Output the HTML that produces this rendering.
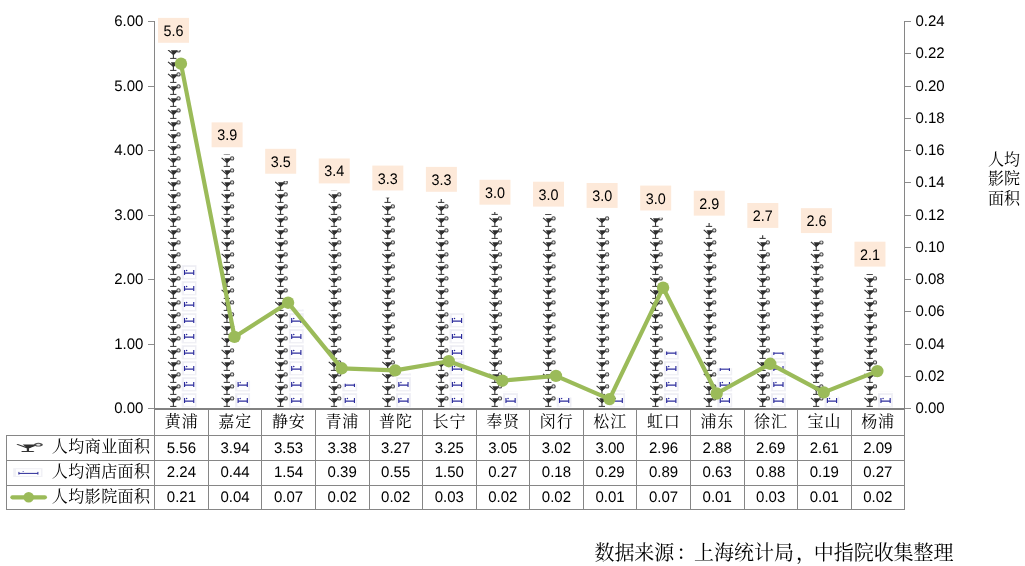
<!DOCTYPE html>
<html lang="zh"><head><meta charset="utf-8"><title>chart</title>
<style>html,body{margin:0;padding:0;background:#fff;overflow:hidden}svg{display:block}</style></head>
<body>
<svg width="1025" height="566" viewBox="0 0 1025 566">
<defs>
<g id="glass"><path d="M1.9 1.8 L7.25 6.5 L11.4 2.5" fill="none" stroke="#303030" stroke-width="1.1"/><path d="M4.7 2.25 L11.6 2.25 L7.7 6.5 L6.9 6.5 Z" fill="#2e2e2e"/><path d="M7.25 6.3 L7.25 10.3" stroke="#343434" stroke-width="1.1"/><path d="M4.4 10.4 L9.9 10.4" stroke="#343434" stroke-width="1.0" stroke-linecap="round"/><circle cx="12.4" cy="2.4" r="1.65" fill="#e2e2e2" stroke="#4c4c4c" stroke-width="1.1"/></g>
<g id="bed"><rect x="0" y="1.1" width="15.3" height="14.3" fill="#f0f0f6"/><rect x="2.0" y="2.7" width="11.8" height="11.7" fill="#fefeff" stroke="#e9e9f1" stroke-width="0.5"/><path d="M3.1 6.1 V10.9 M12.3 6.1 V10.9" fill="none" stroke="#2b2b9c" stroke-width="1.15"/><path d="M3.1 9.2 H12.3" fill="none" stroke="#2b2b9c" stroke-width="1.3"/><circle cx="5.2" cy="6.5" r="0.75" fill="#2b2b9c"/></g>
</defs>
<rect width="1025" height="566" fill="#fff"/>
<g transform="translate(166.14,408.00)"><svg x="0" y="-358.08" width="15.3" height="358.08" viewBox="0 -358.08 15.3 358.08" overflow="hidden">
<use href="#glass" y="-12.00"/>
<use href="#glass" y="-24.00"/>
<use href="#glass" y="-36.00"/>
<use href="#glass" y="-48.00"/>
<use href="#glass" y="-60.00"/>
<use href="#glass" y="-72.00"/>
<use href="#glass" y="-84.00"/>
<use href="#glass" y="-96.00"/>
<use href="#glass" y="-108.00"/>
<use href="#glass" y="-120.00"/>
<use href="#glass" y="-132.00"/>
<use href="#glass" y="-144.00"/>
<use href="#glass" y="-156.00"/>
<use href="#glass" y="-168.00"/>
<use href="#glass" y="-180.00"/>
<use href="#glass" y="-192.00"/>
<use href="#glass" y="-204.00"/>
<use href="#glass" y="-216.00"/>
<use href="#glass" y="-228.00"/>
<use href="#glass" y="-240.00"/>
<use href="#glass" y="-252.00"/>
<use href="#glass" y="-264.00"/>
<use href="#glass" y="-276.00"/>
<use href="#glass" y="-288.00"/>
<use href="#glass" y="-300.00"/>
<use href="#glass" y="-312.00"/>
<use href="#glass" y="-324.00"/>
<use href="#glass" y="-336.00"/>
<use href="#glass" y="-348.00"/>
<use href="#glass" y="-360.00"/>
</svg></g>
<g transform="translate(181.44,408.00)"><svg x="0" y="-143.67" width="15.3" height="143.67" viewBox="0 -143.67 15.3 143.67" overflow="hidden">
<use href="#bed" y="-16.00"/>
<use href="#bed" y="-32.00"/>
<use href="#bed" y="-48.00"/>
<use href="#bed" y="-64.00"/>
<use href="#bed" y="-80.00"/>
<use href="#bed" y="-96.00"/>
<use href="#bed" y="-112.00"/>
<use href="#bed" y="-128.00"/>
<use href="#bed" y="-144.00"/>
</svg></g>
<g transform="translate(219.71,408.00)"><svg x="0" y="-253.46" width="15.3" height="253.46" viewBox="0 -253.46 15.3 253.46" overflow="hidden">
<use href="#glass" y="-12.00"/>
<use href="#glass" y="-24.00"/>
<use href="#glass" y="-36.00"/>
<use href="#glass" y="-48.00"/>
<use href="#glass" y="-60.00"/>
<use href="#glass" y="-72.00"/>
<use href="#glass" y="-84.00"/>
<use href="#glass" y="-96.00"/>
<use href="#glass" y="-108.00"/>
<use href="#glass" y="-120.00"/>
<use href="#glass" y="-132.00"/>
<use href="#glass" y="-144.00"/>
<use href="#glass" y="-156.00"/>
<use href="#glass" y="-168.00"/>
<use href="#glass" y="-180.00"/>
<use href="#glass" y="-192.00"/>
<use href="#glass" y="-204.00"/>
<use href="#glass" y="-216.00"/>
<use href="#glass" y="-228.00"/>
<use href="#glass" y="-240.00"/>
<use href="#glass" y="-252.00"/>
<use href="#glass" y="-264.00"/>
</svg></g>
<g transform="translate(235.01,408.00)"><svg x="0" y="-27.42" width="15.3" height="27.42" viewBox="0 -27.42 15.3 27.42" overflow="hidden">
<use href="#bed" y="-16.00"/>
<use href="#bed" y="-32.00"/>
</svg></g>
<g transform="translate(273.28,408.00)"><svg x="0" y="-226.98" width="15.3" height="226.98" viewBox="0 -226.98 15.3 226.98" overflow="hidden">
<use href="#glass" y="-12.00"/>
<use href="#glass" y="-24.00"/>
<use href="#glass" y="-36.00"/>
<use href="#glass" y="-48.00"/>
<use href="#glass" y="-60.00"/>
<use href="#glass" y="-72.00"/>
<use href="#glass" y="-84.00"/>
<use href="#glass" y="-96.00"/>
<use href="#glass" y="-108.00"/>
<use href="#glass" y="-120.00"/>
<use href="#glass" y="-132.00"/>
<use href="#glass" y="-144.00"/>
<use href="#glass" y="-156.00"/>
<use href="#glass" y="-168.00"/>
<use href="#glass" y="-180.00"/>
<use href="#glass" y="-192.00"/>
<use href="#glass" y="-204.00"/>
<use href="#glass" y="-216.00"/>
<use href="#glass" y="-228.00"/>
</svg></g>
<g transform="translate(288.58,408.00)"><svg x="0" y="-98.46" width="15.3" height="98.46" viewBox="0 -98.46 15.3 98.46" overflow="hidden">
<use href="#bed" y="-16.00"/>
<use href="#bed" y="-32.00"/>
<use href="#bed" y="-48.00"/>
<use href="#bed" y="-64.00"/>
<use href="#bed" y="-80.00"/>
<use href="#bed" y="-96.00"/>
<use href="#bed" y="-112.00"/>
</svg></g>
<g transform="translate(326.85,408.00)"><svg x="0" y="-217.29" width="15.3" height="217.29" viewBox="0 -217.29 15.3 217.29" overflow="hidden">
<use href="#glass" y="-12.00"/>
<use href="#glass" y="-24.00"/>
<use href="#glass" y="-36.00"/>
<use href="#glass" y="-48.00"/>
<use href="#glass" y="-60.00"/>
<use href="#glass" y="-72.00"/>
<use href="#glass" y="-84.00"/>
<use href="#glass" y="-96.00"/>
<use href="#glass" y="-108.00"/>
<use href="#glass" y="-120.00"/>
<use href="#glass" y="-132.00"/>
<use href="#glass" y="-144.00"/>
<use href="#glass" y="-156.00"/>
<use href="#glass" y="-168.00"/>
<use href="#glass" y="-180.00"/>
<use href="#glass" y="-192.00"/>
<use href="#glass" y="-204.00"/>
<use href="#glass" y="-216.00"/>
<use href="#glass" y="-228.00"/>
</svg></g>
<g transform="translate(342.15,408.00)"><svg x="0" y="-24.19" width="15.3" height="24.19" viewBox="0 -24.19 15.3 24.19" overflow="hidden">
<use href="#bed" y="-16.00"/>
<use href="#bed" y="-32.00"/>
</svg></g>
<g transform="translate(380.42,408.00)"><svg x="0" y="-210.19" width="15.3" height="210.19" viewBox="0 -210.19 15.3 210.19" overflow="hidden">
<use href="#glass" y="-12.00"/>
<use href="#glass" y="-24.00"/>
<use href="#glass" y="-36.00"/>
<use href="#glass" y="-48.00"/>
<use href="#glass" y="-60.00"/>
<use href="#glass" y="-72.00"/>
<use href="#glass" y="-84.00"/>
<use href="#glass" y="-96.00"/>
<use href="#glass" y="-108.00"/>
<use href="#glass" y="-120.00"/>
<use href="#glass" y="-132.00"/>
<use href="#glass" y="-144.00"/>
<use href="#glass" y="-156.00"/>
<use href="#glass" y="-168.00"/>
<use href="#glass" y="-180.00"/>
<use href="#glass" y="-192.00"/>
<use href="#glass" y="-204.00"/>
<use href="#glass" y="-216.00"/>
</svg></g>
<g transform="translate(395.72,408.00)"><svg x="0" y="-34.52" width="15.3" height="34.52" viewBox="0 -34.52 15.3 34.52" overflow="hidden">
<use href="#bed" y="-16.00"/>
<use href="#bed" y="-32.00"/>
<use href="#bed" y="-48.00"/>
</svg></g>
<g transform="translate(433.99,408.00)"><svg x="0" y="-208.90" width="15.3" height="208.90" viewBox="0 -208.90 15.3 208.90" overflow="hidden">
<use href="#glass" y="-12.00"/>
<use href="#glass" y="-24.00"/>
<use href="#glass" y="-36.00"/>
<use href="#glass" y="-48.00"/>
<use href="#glass" y="-60.00"/>
<use href="#glass" y="-72.00"/>
<use href="#glass" y="-84.00"/>
<use href="#glass" y="-96.00"/>
<use href="#glass" y="-108.00"/>
<use href="#glass" y="-120.00"/>
<use href="#glass" y="-132.00"/>
<use href="#glass" y="-144.00"/>
<use href="#glass" y="-156.00"/>
<use href="#glass" y="-168.00"/>
<use href="#glass" y="-180.00"/>
<use href="#glass" y="-192.00"/>
<use href="#glass" y="-204.00"/>
<use href="#glass" y="-216.00"/>
</svg></g>
<g transform="translate(449.29,408.00)"><svg x="0" y="-95.88" width="15.3" height="95.88" viewBox="0 -95.88 15.3 95.88" overflow="hidden">
<use href="#bed" y="-16.00"/>
<use href="#bed" y="-32.00"/>
<use href="#bed" y="-48.00"/>
<use href="#bed" y="-64.00"/>
<use href="#bed" y="-80.00"/>
<use href="#bed" y="-96.00"/>
</svg></g>
<g transform="translate(487.56,408.00)"><svg x="0" y="-195.98" width="15.3" height="195.98" viewBox="0 -195.98 15.3 195.98" overflow="hidden">
<use href="#glass" y="-12.00"/>
<use href="#glass" y="-24.00"/>
<use href="#glass" y="-36.00"/>
<use href="#glass" y="-48.00"/>
<use href="#glass" y="-60.00"/>
<use href="#glass" y="-72.00"/>
<use href="#glass" y="-84.00"/>
<use href="#glass" y="-96.00"/>
<use href="#glass" y="-108.00"/>
<use href="#glass" y="-120.00"/>
<use href="#glass" y="-132.00"/>
<use href="#glass" y="-144.00"/>
<use href="#glass" y="-156.00"/>
<use href="#glass" y="-168.00"/>
<use href="#glass" y="-180.00"/>
<use href="#glass" y="-192.00"/>
<use href="#glass" y="-204.00"/>
</svg></g>
<g transform="translate(502.86,408.00)"><svg x="0" y="-16.44" width="15.3" height="16.44" viewBox="0 -16.44 15.3 16.44" overflow="hidden">
<use href="#bed" y="-16.00"/>
<use href="#bed" y="-32.00"/>
</svg></g>
<g transform="translate(541.14,408.00)"><svg x="0" y="-194.04" width="15.3" height="194.04" viewBox="0 -194.04 15.3 194.04" overflow="hidden">
<use href="#glass" y="-12.00"/>
<use href="#glass" y="-24.00"/>
<use href="#glass" y="-36.00"/>
<use href="#glass" y="-48.00"/>
<use href="#glass" y="-60.00"/>
<use href="#glass" y="-72.00"/>
<use href="#glass" y="-84.00"/>
<use href="#glass" y="-96.00"/>
<use href="#glass" y="-108.00"/>
<use href="#glass" y="-120.00"/>
<use href="#glass" y="-132.00"/>
<use href="#glass" y="-144.00"/>
<use href="#glass" y="-156.00"/>
<use href="#glass" y="-168.00"/>
<use href="#glass" y="-180.00"/>
<use href="#glass" y="-192.00"/>
<use href="#glass" y="-204.00"/>
</svg></g>
<g transform="translate(556.44,408.00)"><svg x="0" y="-10.62" width="15.3" height="10.62" viewBox="0 -10.62 15.3 10.62" overflow="hidden">
<use href="#bed" y="-16.00"/>
</svg></g>
<g transform="translate(594.71,408.00)"><svg x="0" y="-192.75" width="15.3" height="192.75" viewBox="0 -192.75 15.3 192.75" overflow="hidden">
<use href="#glass" y="-12.00"/>
<use href="#glass" y="-24.00"/>
<use href="#glass" y="-36.00"/>
<use href="#glass" y="-48.00"/>
<use href="#glass" y="-60.00"/>
<use href="#glass" y="-72.00"/>
<use href="#glass" y="-84.00"/>
<use href="#glass" y="-96.00"/>
<use href="#glass" y="-108.00"/>
<use href="#glass" y="-120.00"/>
<use href="#glass" y="-132.00"/>
<use href="#glass" y="-144.00"/>
<use href="#glass" y="-156.00"/>
<use href="#glass" y="-168.00"/>
<use href="#glass" y="-180.00"/>
<use href="#glass" y="-192.00"/>
<use href="#glass" y="-204.00"/>
</svg></g>
<g transform="translate(610.01,408.00)"><svg x="0" y="-17.73" width="15.3" height="17.73" viewBox="0 -17.73 15.3 17.73" overflow="hidden">
<use href="#bed" y="-16.00"/>
<use href="#bed" y="-32.00"/>
</svg></g>
<g transform="translate(648.28,408.00)"><svg x="0" y="-190.17" width="15.3" height="190.17" viewBox="0 -190.17 15.3 190.17" overflow="hidden">
<use href="#glass" y="-12.00"/>
<use href="#glass" y="-24.00"/>
<use href="#glass" y="-36.00"/>
<use href="#glass" y="-48.00"/>
<use href="#glass" y="-60.00"/>
<use href="#glass" y="-72.00"/>
<use href="#glass" y="-84.00"/>
<use href="#glass" y="-96.00"/>
<use href="#glass" y="-108.00"/>
<use href="#glass" y="-120.00"/>
<use href="#glass" y="-132.00"/>
<use href="#glass" y="-144.00"/>
<use href="#glass" y="-156.00"/>
<use href="#glass" y="-168.00"/>
<use href="#glass" y="-180.00"/>
<use href="#glass" y="-192.00"/>
</svg></g>
<g transform="translate(663.58,408.00)"><svg x="0" y="-56.48" width="15.3" height="56.48" viewBox="0 -56.48 15.3 56.48" overflow="hidden">
<use href="#bed" y="-16.00"/>
<use href="#bed" y="-32.00"/>
<use href="#bed" y="-48.00"/>
<use href="#bed" y="-64.00"/>
</svg></g>
<g transform="translate(701.85,408.00)"><svg x="0" y="-185.00" width="15.3" height="185.00" viewBox="0 -185.00 15.3 185.00" overflow="hidden">
<use href="#glass" y="-12.00"/>
<use href="#glass" y="-24.00"/>
<use href="#glass" y="-36.00"/>
<use href="#glass" y="-48.00"/>
<use href="#glass" y="-60.00"/>
<use href="#glass" y="-72.00"/>
<use href="#glass" y="-84.00"/>
<use href="#glass" y="-96.00"/>
<use href="#glass" y="-108.00"/>
<use href="#glass" y="-120.00"/>
<use href="#glass" y="-132.00"/>
<use href="#glass" y="-144.00"/>
<use href="#glass" y="-156.00"/>
<use href="#glass" y="-168.00"/>
<use href="#glass" y="-180.00"/>
<use href="#glass" y="-192.00"/>
</svg></g>
<g transform="translate(717.15,408.00)"><svg x="0" y="-39.69" width="15.3" height="39.69" viewBox="0 -39.69 15.3 39.69" overflow="hidden">
<use href="#bed" y="-16.00"/>
<use href="#bed" y="-32.00"/>
<use href="#bed" y="-48.00"/>
</svg></g>
<g transform="translate(755.42,408.00)"><svg x="0" y="-172.73" width="15.3" height="172.73" viewBox="0 -172.73 15.3 172.73" overflow="hidden">
<use href="#glass" y="-12.00"/>
<use href="#glass" y="-24.00"/>
<use href="#glass" y="-36.00"/>
<use href="#glass" y="-48.00"/>
<use href="#glass" y="-60.00"/>
<use href="#glass" y="-72.00"/>
<use href="#glass" y="-84.00"/>
<use href="#glass" y="-96.00"/>
<use href="#glass" y="-108.00"/>
<use href="#glass" y="-120.00"/>
<use href="#glass" y="-132.00"/>
<use href="#glass" y="-144.00"/>
<use href="#glass" y="-156.00"/>
<use href="#glass" y="-168.00"/>
<use href="#glass" y="-180.00"/>
</svg></g>
<g transform="translate(770.72,408.00)"><svg x="0" y="-55.83" width="15.3" height="55.83" viewBox="0 -55.83 15.3 55.83" overflow="hidden">
<use href="#bed" y="-16.00"/>
<use href="#bed" y="-32.00"/>
<use href="#bed" y="-48.00"/>
<use href="#bed" y="-64.00"/>
</svg></g>
<g transform="translate(808.99,408.00)"><svg x="0" y="-167.56" width="15.3" height="167.56" viewBox="0 -167.56 15.3 167.56" overflow="hidden">
<use href="#glass" y="-12.00"/>
<use href="#glass" y="-24.00"/>
<use href="#glass" y="-36.00"/>
<use href="#glass" y="-48.00"/>
<use href="#glass" y="-60.00"/>
<use href="#glass" y="-72.00"/>
<use href="#glass" y="-84.00"/>
<use href="#glass" y="-96.00"/>
<use href="#glass" y="-108.00"/>
<use href="#glass" y="-120.00"/>
<use href="#glass" y="-132.00"/>
<use href="#glass" y="-144.00"/>
<use href="#glass" y="-156.00"/>
<use href="#glass" y="-168.00"/>
</svg></g>
<g transform="translate(824.29,408.00)"><svg x="0" y="-11.27" width="15.3" height="11.27" viewBox="0 -11.27 15.3 11.27" overflow="hidden">
<use href="#bed" y="-16.00"/>
</svg></g>
<g transform="translate(862.56,408.00)"><svg x="0" y="-133.98" width="15.3" height="133.98" viewBox="0 -133.98 15.3 133.98" overflow="hidden">
<use href="#glass" y="-12.00"/>
<use href="#glass" y="-24.00"/>
<use href="#glass" y="-36.00"/>
<use href="#glass" y="-48.00"/>
<use href="#glass" y="-60.00"/>
<use href="#glass" y="-72.00"/>
<use href="#glass" y="-84.00"/>
<use href="#glass" y="-96.00"/>
<use href="#glass" y="-108.00"/>
<use href="#glass" y="-120.00"/>
<use href="#glass" y="-132.00"/>
<use href="#glass" y="-144.00"/>
</svg></g>
<g transform="translate(877.86,408.00)"><svg x="0" y="-16.44" width="15.3" height="16.44" viewBox="0 -16.44 15.3 16.44" overflow="hidden">
<use href="#bed" y="-16.00"/>
<use href="#bed" y="-32.00"/>
</svg></g>
<g stroke="#868686" stroke-width="1" fill="none">
<path d="M154.5 21.0 V509"/>
<path d="M904.5 21.0 V509"/>
</g>
<g stroke="#8c8c8c" stroke-width="1" fill="none">
<path d="M148.0 408.5 H154.0"/>
<path d="M148.0 344.5 H154.0"/>
<path d="M148.0 279.5 H154.0"/>
<path d="M148.0 215.5 H154.0"/>
<path d="M148.0 150.5 H154.0"/>
<path d="M148.0 86.5 H154.0"/>
<path d="M148.0 21.5 H154.0"/>
<path d="M905.0 408.5 H911.0"/>
<path d="M905.0 376.5 H911.0"/>
<path d="M905.0 344.5 H911.0"/>
<path d="M905.0 311.5 H911.0"/>
<path d="M905.0 279.5 H911.0"/>
<path d="M905.0 247.5 H911.0"/>
<path d="M905.0 215.5 H911.0"/>
<path d="M905.0 182.5 H911.0"/>
<path d="M905.0 150.5 H911.0"/>
<path d="M905.0 118.5 H911.0"/>
<path d="M905.0 86.5 H911.0"/>
<path d="M905.0 53.5 H911.0"/>
<path d="M905.0 21.5 H911.0"/>
</g>
<g stroke="#868686" fill="none" stroke-width="1">
<path d="M154.0 409 H905.0" stroke-width="2" stroke="#828282"/>
<path d="M6 435.5 H905.0"/>
<path d="M6 460.5 H905.0"/>
<path d="M6 485.5 H905.0"/>
<path d="M6 509.5 H905.0"/>
<path d="M6.5 435.5 V509.5"/>
<path d="M208.5 410 V509.5"/>
<path d="M261.5 410 V509.5"/>
<path d="M315.5 410 V509.5"/>
<path d="M369.5 410 V509.5"/>
<path d="M422.5 410 V509.5"/>
<path d="M476.5 410 V509.5"/>
<path d="M529.5 410 V509.5"/>
<path d="M583.5 410 V509.5"/>
<path d="M636.5 410 V509.5"/>
<path d="M690.5 410 V509.5"/>
<path d="M744.5 410 V509.5"/>
<path d="M797.5 410 V509.5"/>
<path d="M851.5 410 V509.5"/>
</g>
<text x="143.4" y="413.20" text-anchor="end" font-family="Liberation Sans, sans-serif" text-rendering="geometricPrecision" font-size="15.3" fill="#000" textLength="29.2" lengthAdjust="spacingAndGlyphs">0.00</text>
<text x="143.4" y="348.70" text-anchor="end" font-family="Liberation Sans, sans-serif" text-rendering="geometricPrecision" font-size="15.3" fill="#000" textLength="29.2" lengthAdjust="spacingAndGlyphs">1.00</text>
<text x="143.4" y="284.20" text-anchor="end" font-family="Liberation Sans, sans-serif" text-rendering="geometricPrecision" font-size="15.3" fill="#000" textLength="29.2" lengthAdjust="spacingAndGlyphs">2.00</text>
<text x="143.4" y="219.70" text-anchor="end" font-family="Liberation Sans, sans-serif" text-rendering="geometricPrecision" font-size="15.3" fill="#000" textLength="29.2" lengthAdjust="spacingAndGlyphs">3.00</text>
<text x="143.4" y="155.20" text-anchor="end" font-family="Liberation Sans, sans-serif" text-rendering="geometricPrecision" font-size="15.3" fill="#000" textLength="29.2" lengthAdjust="spacingAndGlyphs">4.00</text>
<text x="143.4" y="90.70" text-anchor="end" font-family="Liberation Sans, sans-serif" text-rendering="geometricPrecision" font-size="15.3" fill="#000" textLength="29.2" lengthAdjust="spacingAndGlyphs">5.00</text>
<text x="143.4" y="26.20" text-anchor="end" font-family="Liberation Sans, sans-serif" text-rendering="geometricPrecision" font-size="15.3" fill="#000" textLength="29.2" lengthAdjust="spacingAndGlyphs">6.00</text>
<text x="915.5" y="413.20" font-family="Liberation Sans, sans-serif" text-rendering="geometricPrecision" font-size="15.3" fill="#000" textLength="29.2" lengthAdjust="spacingAndGlyphs">0.00</text>
<text x="915.5" y="380.95" font-family="Liberation Sans, sans-serif" text-rendering="geometricPrecision" font-size="15.3" fill="#000" textLength="29.2" lengthAdjust="spacingAndGlyphs">0.02</text>
<text x="915.5" y="348.70" font-family="Liberation Sans, sans-serif" text-rendering="geometricPrecision" font-size="15.3" fill="#000" textLength="29.2" lengthAdjust="spacingAndGlyphs">0.04</text>
<text x="915.5" y="316.45" font-family="Liberation Sans, sans-serif" text-rendering="geometricPrecision" font-size="15.3" fill="#000" textLength="29.2" lengthAdjust="spacingAndGlyphs">0.06</text>
<text x="915.5" y="284.20" font-family="Liberation Sans, sans-serif" text-rendering="geometricPrecision" font-size="15.3" fill="#000" textLength="29.2" lengthAdjust="spacingAndGlyphs">0.08</text>
<text x="915.5" y="251.95" font-family="Liberation Sans, sans-serif" text-rendering="geometricPrecision" font-size="15.3" fill="#000" textLength="29.2" lengthAdjust="spacingAndGlyphs">0.10</text>
<text x="915.5" y="219.70" font-family="Liberation Sans, sans-serif" text-rendering="geometricPrecision" font-size="15.3" fill="#000" textLength="29.2" lengthAdjust="spacingAndGlyphs">0.12</text>
<text x="915.5" y="187.45" font-family="Liberation Sans, sans-serif" text-rendering="geometricPrecision" font-size="15.3" fill="#000" textLength="29.2" lengthAdjust="spacingAndGlyphs">0.14</text>
<text x="915.5" y="155.20" font-family="Liberation Sans, sans-serif" text-rendering="geometricPrecision" font-size="15.3" fill="#000" textLength="29.2" lengthAdjust="spacingAndGlyphs">0.16</text>
<text x="915.5" y="122.95" font-family="Liberation Sans, sans-serif" text-rendering="geometricPrecision" font-size="15.3" fill="#000" textLength="29.2" lengthAdjust="spacingAndGlyphs">0.18</text>
<text x="915.5" y="90.70" font-family="Liberation Sans, sans-serif" text-rendering="geometricPrecision" font-size="15.3" fill="#000" textLength="29.2" lengthAdjust="spacingAndGlyphs">0.20</text>
<text x="915.5" y="58.45" font-family="Liberation Sans, sans-serif" text-rendering="geometricPrecision" font-size="15.3" fill="#000" textLength="29.2" lengthAdjust="spacingAndGlyphs">0.22</text>
<text x="915.5" y="26.20" font-family="Liberation Sans, sans-serif" text-rendering="geometricPrecision" font-size="15.3" fill="#000" textLength="29.2" lengthAdjust="spacingAndGlyphs">0.24</text>
<rect x="158.04" y="17.88" width="31" height="24.9" fill="#fde9d9"/>
<text x="173.59" y="35.88" text-anchor="middle" font-family="Liberation Sans, sans-serif" text-rendering="geometricPrecision" font-size="15.3" fill="#000" textLength="20" lengthAdjust="spacingAndGlyphs">5.6</text>
<rect x="211.61" y="122.37" width="31" height="24.9" fill="#fde9d9"/>
<text x="227.16" y="140.37" text-anchor="middle" font-family="Liberation Sans, sans-serif" text-rendering="geometricPrecision" font-size="15.3" fill="#000" textLength="20" lengthAdjust="spacingAndGlyphs">3.9</text>
<rect x="265.18" y="148.82" width="31" height="24.9" fill="#fde9d9"/>
<text x="280.73" y="166.82" text-anchor="middle" font-family="Liberation Sans, sans-serif" text-rendering="geometricPrecision" font-size="15.3" fill="#000" textLength="20" lengthAdjust="spacingAndGlyphs">3.5</text>
<rect x="318.75" y="158.49" width="31" height="24.9" fill="#fde9d9"/>
<text x="334.30" y="176.49" text-anchor="middle" font-family="Liberation Sans, sans-serif" text-rendering="geometricPrecision" font-size="15.3" fill="#000" textLength="20" lengthAdjust="spacingAndGlyphs">3.4</text>
<rect x="372.32" y="165.58" width="31" height="24.9" fill="#fde9d9"/>
<text x="387.87" y="183.58" text-anchor="middle" font-family="Liberation Sans, sans-serif" text-rendering="geometricPrecision" font-size="15.3" fill="#000" textLength="20" lengthAdjust="spacingAndGlyphs">3.3</text>
<rect x="425.89" y="166.88" width="31" height="24.9" fill="#fde9d9"/>
<text x="441.44" y="184.88" text-anchor="middle" font-family="Liberation Sans, sans-serif" text-rendering="geometricPrecision" font-size="15.3" fill="#000" textLength="20" lengthAdjust="spacingAndGlyphs">3.3</text>
<rect x="479.46" y="179.78" width="31" height="24.9" fill="#fde9d9"/>
<text x="495.01" y="197.78" text-anchor="middle" font-family="Liberation Sans, sans-serif" text-rendering="geometricPrecision" font-size="15.3" fill="#000" textLength="20" lengthAdjust="spacingAndGlyphs">3.0</text>
<rect x="533.04" y="181.71" width="31" height="24.9" fill="#fde9d9"/>
<text x="548.59" y="199.71" text-anchor="middle" font-family="Liberation Sans, sans-serif" text-rendering="geometricPrecision" font-size="15.3" fill="#000" textLength="20" lengthAdjust="spacingAndGlyphs">3.0</text>
<rect x="586.61" y="183.00" width="31" height="24.9" fill="#fde9d9"/>
<text x="602.16" y="201.00" text-anchor="middle" font-family="Liberation Sans, sans-serif" text-rendering="geometricPrecision" font-size="15.3" fill="#000" textLength="20" lengthAdjust="spacingAndGlyphs">3.0</text>
<rect x="640.18" y="185.58" width="31" height="24.9" fill="#fde9d9"/>
<text x="655.73" y="203.58" text-anchor="middle" font-family="Liberation Sans, sans-serif" text-rendering="geometricPrecision" font-size="15.3" fill="#000" textLength="20" lengthAdjust="spacingAndGlyphs">3.0</text>
<rect x="693.75" y="190.74" width="31" height="24.9" fill="#fde9d9"/>
<text x="709.30" y="208.74" text-anchor="middle" font-family="Liberation Sans, sans-serif" text-rendering="geometricPrecision" font-size="15.3" fill="#000" textLength="20" lengthAdjust="spacingAndGlyphs">2.9</text>
<rect x="747.32" y="203.00" width="31" height="24.9" fill="#fde9d9"/>
<text x="762.87" y="221.00" text-anchor="middle" font-family="Liberation Sans, sans-serif" text-rendering="geometricPrecision" font-size="15.3" fill="#000" textLength="20" lengthAdjust="spacingAndGlyphs">2.7</text>
<rect x="800.89" y="208.16" width="31" height="24.9" fill="#fde9d9"/>
<text x="816.44" y="226.16" text-anchor="middle" font-family="Liberation Sans, sans-serif" text-rendering="geometricPrecision" font-size="15.3" fill="#000" textLength="20" lengthAdjust="spacingAndGlyphs">2.6</text>
<rect x="854.46" y="241.69" width="31" height="24.9" fill="#fde9d9"/>
<text x="870.01" y="259.69" text-anchor="middle" font-family="Liberation Sans, sans-serif" text-rendering="geometricPrecision" font-size="15.3" fill="#000" textLength="20" lengthAdjust="spacingAndGlyphs">2.1</text>
<polyline points="180.94,63.70 234.51,336.90 288.08,302.70 341.65,368.30 395.22,370.40 448.79,361.20 502.36,380.70 555.94,375.90 609.51,399.10 663.08,287.70 716.65,393.50 770.22,363.80 823.79,392.40 877.36,371.10" fill="none" stroke="#9bbb59" stroke-width="4.2" stroke-linejoin="round"/>
<circle cx="180.94" cy="63.70" r="6.2" fill="#9bbb59"/>
<circle cx="234.51" cy="336.90" r="6.2" fill="#9bbb59"/>
<circle cx="288.08" cy="302.70" r="6.2" fill="#9bbb59"/>
<circle cx="341.65" cy="368.30" r="6.2" fill="#9bbb59"/>
<circle cx="395.22" cy="370.40" r="6.2" fill="#9bbb59"/>
<circle cx="448.79" cy="361.20" r="6.2" fill="#9bbb59"/>
<circle cx="502.36" cy="380.70" r="6.2" fill="#9bbb59"/>
<circle cx="555.94" cy="375.90" r="6.2" fill="#9bbb59"/>
<circle cx="609.51" cy="399.10" r="6.2" fill="#9bbb59"/>
<circle cx="663.08" cy="287.70" r="6.2" fill="#9bbb59"/>
<circle cx="716.65" cy="393.50" r="6.2" fill="#9bbb59"/>
<circle cx="770.22" cy="363.80" r="6.2" fill="#9bbb59"/>
<circle cx="823.79" cy="392.40" r="6.2" fill="#9bbb59"/>
<circle cx="877.36" cy="371.10" r="6.2" fill="#9bbb59"/>
<text x="164.74 181.64" y="426.9" font-family="Liberation Serif, Noto Serif CJK SC, serif" font-size="16" fill="#000">黄浦</text>
<text x="181.44" y="452.6" text-anchor="middle" font-family="Liberation Sans, sans-serif" text-rendering="geometricPrecision" font-size="15.3" fill="#000" textLength="29.2" lengthAdjust="spacingAndGlyphs">5.56</text>
<text x="181.44" y="477.4" text-anchor="middle" font-family="Liberation Sans, sans-serif" text-rendering="geometricPrecision" font-size="15.3" fill="#000" textLength="29.2" lengthAdjust="spacingAndGlyphs">2.24</text>
<text x="181.44" y="502.0" text-anchor="middle" font-family="Liberation Sans, sans-serif" text-rendering="geometricPrecision" font-size="15.3" fill="#000" textLength="29.2" lengthAdjust="spacingAndGlyphs">0.21</text>
<text x="218.31 235.21" y="426.9" font-family="Liberation Serif, Noto Serif CJK SC, serif" font-size="16" fill="#000">嘉定</text>
<text x="235.01" y="452.6" text-anchor="middle" font-family="Liberation Sans, sans-serif" text-rendering="geometricPrecision" font-size="15.3" fill="#000" textLength="29.2" lengthAdjust="spacingAndGlyphs">3.94</text>
<text x="235.01" y="477.4" text-anchor="middle" font-family="Liberation Sans, sans-serif" text-rendering="geometricPrecision" font-size="15.3" fill="#000" textLength="29.2" lengthAdjust="spacingAndGlyphs">0.44</text>
<text x="235.01" y="502.0" text-anchor="middle" font-family="Liberation Sans, sans-serif" text-rendering="geometricPrecision" font-size="15.3" fill="#000" textLength="29.2" lengthAdjust="spacingAndGlyphs">0.04</text>
<text x="271.88 288.78" y="426.9" font-family="Liberation Serif, Noto Serif CJK SC, serif" font-size="16" fill="#000">静安</text>
<text x="288.58" y="452.6" text-anchor="middle" font-family="Liberation Sans, sans-serif" text-rendering="geometricPrecision" font-size="15.3" fill="#000" textLength="29.2" lengthAdjust="spacingAndGlyphs">3.53</text>
<text x="288.58" y="477.4" text-anchor="middle" font-family="Liberation Sans, sans-serif" text-rendering="geometricPrecision" font-size="15.3" fill="#000" textLength="29.2" lengthAdjust="spacingAndGlyphs">1.54</text>
<text x="288.58" y="502.0" text-anchor="middle" font-family="Liberation Sans, sans-serif" text-rendering="geometricPrecision" font-size="15.3" fill="#000" textLength="29.2" lengthAdjust="spacingAndGlyphs">0.07</text>
<text x="325.45 342.35" y="426.9" font-family="Liberation Serif, Noto Serif CJK SC, serif" font-size="16" fill="#000">青浦</text>
<text x="342.15" y="452.6" text-anchor="middle" font-family="Liberation Sans, sans-serif" text-rendering="geometricPrecision" font-size="15.3" fill="#000" textLength="29.2" lengthAdjust="spacingAndGlyphs">3.38</text>
<text x="342.15" y="477.4" text-anchor="middle" font-family="Liberation Sans, sans-serif" text-rendering="geometricPrecision" font-size="15.3" fill="#000" textLength="29.2" lengthAdjust="spacingAndGlyphs">0.39</text>
<text x="342.15" y="502.0" text-anchor="middle" font-family="Liberation Sans, sans-serif" text-rendering="geometricPrecision" font-size="15.3" fill="#000" textLength="29.2" lengthAdjust="spacingAndGlyphs">0.02</text>
<text x="379.02 395.92" y="426.9" font-family="Liberation Serif, Noto Serif CJK SC, serif" font-size="16" fill="#000">普陀</text>
<text x="395.72" y="452.6" text-anchor="middle" font-family="Liberation Sans, sans-serif" text-rendering="geometricPrecision" font-size="15.3" fill="#000" textLength="29.2" lengthAdjust="spacingAndGlyphs">3.27</text>
<text x="395.72" y="477.4" text-anchor="middle" font-family="Liberation Sans, sans-serif" text-rendering="geometricPrecision" font-size="15.3" fill="#000" textLength="29.2" lengthAdjust="spacingAndGlyphs">0.55</text>
<text x="395.72" y="502.0" text-anchor="middle" font-family="Liberation Sans, sans-serif" text-rendering="geometricPrecision" font-size="15.3" fill="#000" textLength="29.2" lengthAdjust="spacingAndGlyphs">0.02</text>
<text x="432.59 449.49" y="426.9" font-family="Liberation Serif, Noto Serif CJK SC, serif" font-size="16" fill="#000">长宁</text>
<text x="449.29" y="452.6" text-anchor="middle" font-family="Liberation Sans, sans-serif" text-rendering="geometricPrecision" font-size="15.3" fill="#000" textLength="29.2" lengthAdjust="spacingAndGlyphs">3.25</text>
<text x="449.29" y="477.4" text-anchor="middle" font-family="Liberation Sans, sans-serif" text-rendering="geometricPrecision" font-size="15.3" fill="#000" textLength="29.2" lengthAdjust="spacingAndGlyphs">1.50</text>
<text x="449.29" y="502.0" text-anchor="middle" font-family="Liberation Sans, sans-serif" text-rendering="geometricPrecision" font-size="15.3" fill="#000" textLength="29.2" lengthAdjust="spacingAndGlyphs">0.03</text>
<text x="486.16 503.06" y="426.9" font-family="Liberation Serif, Noto Serif CJK SC, serif" font-size="16" fill="#000">奉贤</text>
<text x="502.86" y="452.6" text-anchor="middle" font-family="Liberation Sans, sans-serif" text-rendering="geometricPrecision" font-size="15.3" fill="#000" textLength="29.2" lengthAdjust="spacingAndGlyphs">3.05</text>
<text x="502.86" y="477.4" text-anchor="middle" font-family="Liberation Sans, sans-serif" text-rendering="geometricPrecision" font-size="15.3" fill="#000" textLength="29.2" lengthAdjust="spacingAndGlyphs">0.27</text>
<text x="502.86" y="502.0" text-anchor="middle" font-family="Liberation Sans, sans-serif" text-rendering="geometricPrecision" font-size="15.3" fill="#000" textLength="29.2" lengthAdjust="spacingAndGlyphs">0.02</text>
<text x="539.74 556.64" y="426.9" font-family="Liberation Serif, Noto Serif CJK SC, serif" font-size="16" fill="#000">闵行</text>
<text x="556.44" y="452.6" text-anchor="middle" font-family="Liberation Sans, sans-serif" text-rendering="geometricPrecision" font-size="15.3" fill="#000" textLength="29.2" lengthAdjust="spacingAndGlyphs">3.02</text>
<text x="556.44" y="477.4" text-anchor="middle" font-family="Liberation Sans, sans-serif" text-rendering="geometricPrecision" font-size="15.3" fill="#000" textLength="29.2" lengthAdjust="spacingAndGlyphs">0.18</text>
<text x="556.44" y="502.0" text-anchor="middle" font-family="Liberation Sans, sans-serif" text-rendering="geometricPrecision" font-size="15.3" fill="#000" textLength="29.2" lengthAdjust="spacingAndGlyphs">0.02</text>
<text x="593.31 610.21" y="426.9" font-family="Liberation Serif, Noto Serif CJK SC, serif" font-size="16" fill="#000">松江</text>
<text x="610.01" y="452.6" text-anchor="middle" font-family="Liberation Sans, sans-serif" text-rendering="geometricPrecision" font-size="15.3" fill="#000" textLength="29.2" lengthAdjust="spacingAndGlyphs">3.00</text>
<text x="610.01" y="477.4" text-anchor="middle" font-family="Liberation Sans, sans-serif" text-rendering="geometricPrecision" font-size="15.3" fill="#000" textLength="29.2" lengthAdjust="spacingAndGlyphs">0.29</text>
<text x="610.01" y="502.0" text-anchor="middle" font-family="Liberation Sans, sans-serif" text-rendering="geometricPrecision" font-size="15.3" fill="#000" textLength="29.2" lengthAdjust="spacingAndGlyphs">0.01</text>
<text x="646.88 663.78" y="426.9" font-family="Liberation Serif, Noto Serif CJK SC, serif" font-size="16" fill="#000">虹口</text>
<text x="663.58" y="452.6" text-anchor="middle" font-family="Liberation Sans, sans-serif" text-rendering="geometricPrecision" font-size="15.3" fill="#000" textLength="29.2" lengthAdjust="spacingAndGlyphs">2.96</text>
<text x="663.58" y="477.4" text-anchor="middle" font-family="Liberation Sans, sans-serif" text-rendering="geometricPrecision" font-size="15.3" fill="#000" textLength="29.2" lengthAdjust="spacingAndGlyphs">0.89</text>
<text x="663.58" y="502.0" text-anchor="middle" font-family="Liberation Sans, sans-serif" text-rendering="geometricPrecision" font-size="15.3" fill="#000" textLength="29.2" lengthAdjust="spacingAndGlyphs">0.07</text>
<text x="700.45 717.35" y="426.9" font-family="Liberation Serif, Noto Serif CJK SC, serif" font-size="16" fill="#000">浦东</text>
<text x="717.15" y="452.6" text-anchor="middle" font-family="Liberation Sans, sans-serif" text-rendering="geometricPrecision" font-size="15.3" fill="#000" textLength="29.2" lengthAdjust="spacingAndGlyphs">2.88</text>
<text x="717.15" y="477.4" text-anchor="middle" font-family="Liberation Sans, sans-serif" text-rendering="geometricPrecision" font-size="15.3" fill="#000" textLength="29.2" lengthAdjust="spacingAndGlyphs">0.63</text>
<text x="717.15" y="502.0" text-anchor="middle" font-family="Liberation Sans, sans-serif" text-rendering="geometricPrecision" font-size="15.3" fill="#000" textLength="29.2" lengthAdjust="spacingAndGlyphs">0.01</text>
<text x="754.02 770.92" y="426.9" font-family="Liberation Serif, Noto Serif CJK SC, serif" font-size="16" fill="#000">徐汇</text>
<text x="770.72" y="452.6" text-anchor="middle" font-family="Liberation Sans, sans-serif" text-rendering="geometricPrecision" font-size="15.3" fill="#000" textLength="29.2" lengthAdjust="spacingAndGlyphs">2.69</text>
<text x="770.72" y="477.4" text-anchor="middle" font-family="Liberation Sans, sans-serif" text-rendering="geometricPrecision" font-size="15.3" fill="#000" textLength="29.2" lengthAdjust="spacingAndGlyphs">0.88</text>
<text x="770.72" y="502.0" text-anchor="middle" font-family="Liberation Sans, sans-serif" text-rendering="geometricPrecision" font-size="15.3" fill="#000" textLength="29.2" lengthAdjust="spacingAndGlyphs">0.03</text>
<text x="807.59 824.49" y="426.9" font-family="Liberation Serif, Noto Serif CJK SC, serif" font-size="16" fill="#000">宝山</text>
<text x="824.29" y="452.6" text-anchor="middle" font-family="Liberation Sans, sans-serif" text-rendering="geometricPrecision" font-size="15.3" fill="#000" textLength="29.2" lengthAdjust="spacingAndGlyphs">2.61</text>
<text x="824.29" y="477.4" text-anchor="middle" font-family="Liberation Sans, sans-serif" text-rendering="geometricPrecision" font-size="15.3" fill="#000" textLength="29.2" lengthAdjust="spacingAndGlyphs">0.19</text>
<text x="824.29" y="502.0" text-anchor="middle" font-family="Liberation Sans, sans-serif" text-rendering="geometricPrecision" font-size="15.3" fill="#000" textLength="29.2" lengthAdjust="spacingAndGlyphs">0.01</text>
<text x="861.16 878.06" y="426.9" font-family="Liberation Serif, Noto Serif CJK SC, serif" font-size="16" fill="#000">杨浦</text>
<text x="877.86" y="452.6" text-anchor="middle" font-family="Liberation Sans, sans-serif" text-rendering="geometricPrecision" font-size="15.3" fill="#000" textLength="29.2" lengthAdjust="spacingAndGlyphs">2.09</text>
<text x="877.86" y="477.4" text-anchor="middle" font-family="Liberation Sans, sans-serif" text-rendering="geometricPrecision" font-size="15.3" fill="#000" textLength="29.2" lengthAdjust="spacingAndGlyphs">0.27</text>
<text x="877.86" y="502.0" text-anchor="middle" font-family="Liberation Sans, sans-serif" text-rendering="geometricPrecision" font-size="15.3" fill="#000" textLength="29.2" lengthAdjust="spacingAndGlyphs">0.02</text>
<text x="51.80 68.25 84.70 101.15 117.60 134.05" y="452.4" font-family="Liberation Serif, Noto Serif CJK SC, serif" font-size="16" fill="#000">人均商业面积</text>
<text x="51.80 68.25 84.70 101.15 117.60 134.05" y="477.4" font-family="Liberation Serif, Noto Serif CJK SC, serif" font-size="16" fill="#000">人均酒店面积</text>
<text x="51.80 68.25 84.70 101.15 117.60 134.05" y="502.0" font-family="Liberation Serif, Noto Serif CJK SC, serif" font-size="16" fill="#000">人均影院面积</text>
<g transform="translate(13.2,442.7) scale(2.03,0.85)"><use href="#glass"/></g>
<g><rect x="13.2" y="468.1" width="29.3" height="8.9" fill="#f1f1f6"/><rect x="16" y="469.2" width="25" height="6.8" fill="#fdfdfe"/><path d="M18.9 471.9 V474.6 M37.9 471.9 V474.6 M18.9 473.4 H37.9" stroke="#2a2a98" stroke-width="1" fill="none"/><circle cx="23.1" cy="471.6" r="0.5" fill="#2a2a98"/></g>
<path d="M12.4 497.3 H44.9" stroke="#9bbb59" stroke-width="4.2" stroke-linecap="round"/><circle cx="28.7" cy="497.3" r="5.3" fill="#9bbb59"/>
<text x="988" y="164.5" font-family="Liberation Serif, Noto Serif CJK SC, serif" font-size="16" fill="#000" textLength="32" lengthAdjust="spacing">人均</text>
<text x="988" y="184.3" font-family="Liberation Serif, Noto Serif CJK SC, serif" font-size="16" fill="#000" textLength="32" lengthAdjust="spacing">影院</text>
<text x="988" y="204.1" font-family="Liberation Serif, Noto Serif CJK SC, serif" font-size="16" fill="#000" textLength="32" lengthAdjust="spacing">面积</text>
<text x="594.4 614.4 634.3 654.2 676.4 694.1 714.1 734.0 754.0 773.9 796.1 813.8 833.8 853.8 873.7 893.6 913.6 933.5" y="559.5" font-family="Liberation Serif, Noto Serif CJK SC, serif" font-size="20" fill="#000">数据来源：上海统计局，中指院收集整理</text>
</svg>
</body></html>
